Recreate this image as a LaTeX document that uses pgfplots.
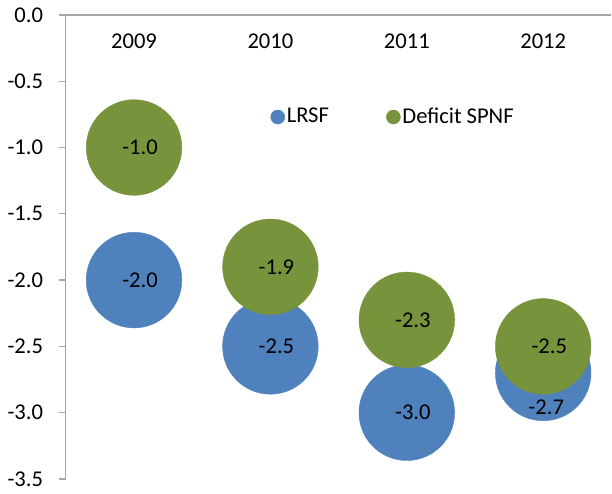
\documentclass[border=0pt]{standalone}
\usepackage{pgfplots}
\pgfplotsset{compat=1.18}
\usepackage{fontspec}
\setmainfont{Carlito}
\definecolor{lrsf}{HTML}{4F81BD}
\definecolor{spnf}{HTML}{77933C}
\definecolor{axgray}{HTML}{A6A6A6}
\begin{document}
\fontsize{22.5}{26}\selectfont
\begin{tikzpicture}
\begin{axis}[
  scale only axis, width=542bp, height=461bp,
  xmin=-0.5, xmax=3.5, ymin=-3.5, ymax=0,
  axis x line*=top, axis y line*=left,
  axis line style={axgray, line width=1.2pt},
  xtick={0,1,2,3}, xticklabels={2009,2010,2011,2012},
  x tick style={draw=none},
  xticklabel style={anchor=north, yshift=-18bp},
  ytick={-3.5,-3,-2.5,-2,-1.5,-1,-0.5,0},
  yticklabels={-3.5,-3.0,-2.5,-2.0,-1.5,-1.0,-0.5,0.0},
  y tick style={axgray, line width=1.2pt},
  tick align=outside, major tick length=7bp,
  yticklabel style={xshift=-8bp},
  clip=false,
  legend style={at={(0.6,0.78)}, anchor=center, draw=none, fill=none,
    legend columns=2, font=\fontsize{22.5}{26}\selectfont,
    /tikz/every even column/.append style={column sep=55bp}},
  legend image post style={mark size=7bp},
  legend image code/.code={\draw[#1] plot coordinates {(0.25cm,0cm)};},
]
\addplot[only marks, mark=*, mark size=47.5bp, color=lrsf, mark options={draw=lrsf, fill=lrsf}]
  coordinates {(0,-2.0) (1,-2.5) (2,-3.0) (3,-2.7)};
\addlegendentry{LRSF}
\addplot[only marks, mark=*, mark size=47.5bp, color=spnf, mark options={draw=spnf, fill=spnf}]
  coordinates {(0,-1.0) (1,-1.9) (2,-2.3) (3,-2.5)};
\addlegendentry{Deficit SPNF}
\addplot[only marks, mark=none, forget plot, point meta=explicit symbolic,
  nodes near coords, nodes near coords style={anchor=center, text=black, xshift=6bp}]
  coordinates {(0,-2.0) [-2.0] (1,-2.5) [-2.5] (2,-3.0) [-3.0]
               (0,-1.0) [-1.0] (1,-1.9) [-1.9] (2,-2.3) [-2.3] (3,-2.5) [-2.5]};
\addplot[only marks, mark=none, forget plot, point meta=explicit symbolic,
  nodes near coords, nodes near coords style={anchor=center, text=black, xshift=3bp, yshift=-34bp}]
  coordinates {(3,-2.7) [-2.7]};
\end{axis}
\end{tikzpicture}
\end{document}
